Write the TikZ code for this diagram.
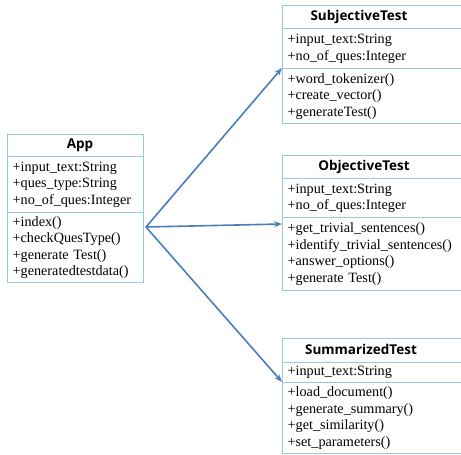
\documentclass[tikz,border=0pt]{standalone}
\usepackage{fontspec}
\setmainfont{Liberation Serif}
\newfontfamily\hdrfont{Open Sans}
\usetikzlibrary{arrows.meta,calc}
\definecolor{boxline}{RGB}{150,202,226}
\definecolor{arrowblue}{RGB}{74,126,187}
\begin{document}
\begin{tikzpicture}[x=1pt,y=-1pt,
  comp/.style={draw=boxline, line width=1.3pt, anchor=north west, inner xsep=5pt, inner ysep=0pt,
    align=left, font=\fontsize{14.2}{16.5}\selectfont},
  hdrbox/.style={comp},
  hdrtext/.style={inner sep=0pt, font=\hdrfont\bfseries\fontsize{13.5}{15}\selectfont},
  conn/.style={draw=arrowblue, line width=1.6pt, -{Stealth[length=8pt,width=6pt]}}]
\useasboundingbox (0,0) rectangle (461,455);
% App
\node[hdrbox, minimum width=136pt, text width=126pt, minimum height=22pt] (appH) at (7,134) {};
\node[hdrtext] (appT) at (80,145.5) {App};
\node[comp, minimum width=136pt, text width=126pt, minimum height=56pt] (appA) at (7,156)
  {+input\_text:String\\+ques\_type:String\\+no\_of\_ques:Integer};
\node[comp, minimum width=136pt, text width=126pt, minimum height=70pt] (appM) at (7,212)
  {+index()\\+checkQuesType()\\+generate Test()\\+generatedtestdata()};
% SubjectiveTest
\node[hdrbox, minimum width=190pt, text width=180pt, minimum height=23pt] (subH) at (282,5) {};
\node[hdrtext] (subT) at (359,17) {SubjectiveTest};
\node[comp, minimum width=190pt, text width=180pt, minimum height=40pt] (subA) at (282,28)
  {+input\_text:String\\+no\_of\_ques:Integer};
\node[comp, minimum width=190pt, text width=180pt, minimum height=55pt] (subM) at (282,68)
  {+word\_tokenizer()\\+create\_vector()\\+generateTest()};
% ObjectiveTest
\node[hdrbox, minimum width=190pt, text width=180pt, minimum height=23pt] (objH) at (282,155) {};
\node[hdrtext] (objT) at (364,167) {ObjectiveTest};
\node[comp, minimum width=190pt, text width=180pt, minimum height=39pt] (objA) at (282,178)
  {+input\_text:String\\+no\_of\_ques:Integer};
\node[comp, minimum width=190pt, text width=180pt, minimum height=73pt] (objM) at (282,217)
  {+get\_trivial\_sentences()\\+identify\_trivial\_sentences()\\+answer\_options()\\+generate Test()};
% SummarizedTest
\node[hdrbox, minimum width=190pt, text width=180pt, minimum height=24pt] (sumH) at (282,338) {};
\node[hdrtext] (sumT) at (361,349.5) {SummarizedTest};
\node[comp, minimum width=190pt, text width=180pt, minimum height=20pt] (sumA) at (282,362)
  {+input\_text:String};
\node[comp, minimum width=190pt, text width=180pt, minimum height=71pt] (sumM) at (282,382)
  {+load\_document()\\+generate\_summary()\\+get\_similarity()\\+set\_parameters()};
% connectors
\coordinate (src) at (146,227);
\coordinate (objIn) at ($(objM.north west)+(0,7)$);
\draw[conn] (src) -- (subM.north west);
\draw[conn] (src) -- (objIn);
\draw[conn] (src) -- (sumM.north west);
\end{tikzpicture}
\end{document}
